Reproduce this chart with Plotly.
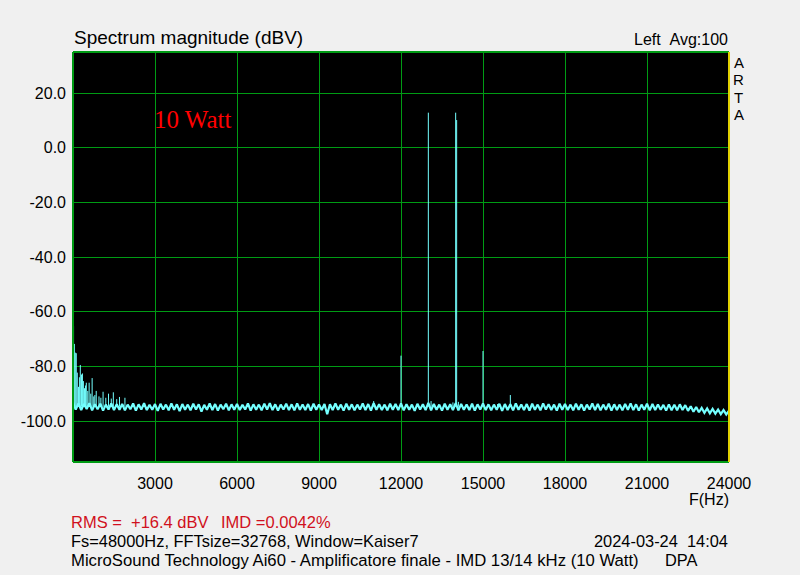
import plotly.graph_objects as go

# ---------------- data ----------------
noise_f0 = 0
noise_step = 100  # Hz between noise-floor samples
noise_db = [
    -93.2, -95.8, -93.6, -96.0, -93.8, -95.6, -93.5, -96.1, -93.9, -95.7, -93.7, -96.2, -94.0, -95.8, -93.6, -96.0, -93.9, -95.9, -93.8, -96.1,
    -94.0, -95.7, -93.6, -96.2, -93.9, -95.8, -93.5, -96.0, -94.1, -95.9, -93.8, -96.3, -93.7, -95.8, -94.0, -96.1, -93.6, -95.9, -93.9, -96.4,
    -93.8, -95.9, -94.0, -96.1, -93.7, -95.8, -93.9, -96.6, -94.1, -95.9, -93.6, -96.0, -93.8, -96.2, -94.0, -95.7, -93.7, -96.1, -93.9, -95.9,
    -93.8, -96.0, -94.1, -95.8, -93.6, -96.2, -93.9, -95.9, -94.0, -96.1, -93.7, -95.8, -93.5, -96.0, -93.9, -96.2, -94.0, -95.8, -93.7, -96.0,
    -93.9, -96.1, -93.6, -95.9, -94.0, -96.0, -93.8, -96.2, -93.7, -95.9, -94.0, -96.0, -93.8, -97.5, -93.9, -96.0, -93.6, -95.9, -94.0, -96.2,
    -93.7, -95.9, -93.9, -96.1, -94.0, -95.8, -93.6, -96.0, -93.8, -96.2, -93.5, -95.9, -93.9, -96.0, -94.0, -96.1, -93.7, -95.9, -93.8, -96.0,
    -93.6, -96.1, -93.9, -95.9, -94.0, -96.3, -93.7, -95.8, -93.9, -96.0, -93.4, -96.1, -93.8, -95.9, -94.0, -96.2, -93.7, -95.9, -93.9, -96.0,
    -93.5, -96.1, -93.8, -95.9, -94.0, -96.0, -93.7, -96.2, -93.9, -95.8, -93.6, -96.0, -93.9, -96.1, -94.0, -95.9, -93.7, -96.3, -93.8, -96.0,
    -93.9, -96.1, -93.6, -95.9, -94.0, -96.0, -93.8, -96.2, -93.7, -95.9, -94.0, -96.1, -93.6, -95.8, -93.9, -96.0, -94.0, -96.2, -93.7, -95.9,
    -93.8, -96.0, -94.0, -96.1, -93.7, -95.9, -93.9, -96.2, -94.0, -95.8, -93.6, -96.0, -93.8, -96.1, -94.0, -95.9, -93.7, -96.2, -93.9, -96.0,
    -94.0, -96.1, -93.8, -95.9, -93.6, -96.0, -93.9, -96.2, -94.0, -95.9, -93.7, -96.1, -93.8, -96.0, -94.0, -95.9, -94.1, -96.2, -93.9, -96.1,
    -94.0, -96.1, -93.9, -96.0, -94.2, -96.3, -94.6, -96.6, -94.9, -96.8, -95.2, -97.0, -95.4, -97.2, -95.6, -97.3, -95.8, -97.5, -96.0, -97.6,
    -96.2,
]
noise_freq = [noise_f0 + i * noise_step for i in range(len(noise_db))]

# discrete spectral lines (Hz, dBV)
spike_freq = [20, 50, 85, 120, 157, 200, 235, 267, 310, 345, 380, 420, 455, 487, 540, 590, 650, 700, 760, 800, 850, 950,
              1020, 1100, 1200, 1300, 1400, 1475, 1600, 1700, 1900,
              11000, 12000, 13000, 13100, 13900, 14000, 14036, 14100, 15000, 15530, 16000]
spike_db = [-65.3, -71.8, -75.0, -75.2, -82.3, -87.5, -84.0, -79.5, -83.0, -82.6, -85.4, -88.0, -87.0, -86.0, -89.0, -86.0, -90.0, -84.3, -91.0, -90.5, -89.0, -91.0,
            -91.5, -89.3, -91.5, -90.0, -91.8, -89.5, -92.0, -91.2, -91.5,
            -92.7, -76.1, 12.8, -92.7, -93.2, 12.8, 10.1, -93.0, -74.4, -93.8, -90.5]
spike_base = -94.8

x_ticks = [3000, 6000, 9000, 12000, 15000, 18000, 21000, 24000]
x_ticktext = ["3000", "6000", "9000", "12000", "15000", "18000", "21000", "24000"]
y_ticks = [-100, -80, -60, -40, -20, 0, 20]
y_ticktext = ["-100.0", "-80.0", "-60.0", "-40.0", "-20.0", "0.0", "20.0"]

# ---------------- figure ----------------
W, H = 800, 575
L, R, T, B = 73, 729, 52, 462
TRACE = "#74ffff"
GRID = "rgb(0,155,20)"
FONT = "Liberation Sans, Arial, sans-serif"

sx, sy = [], []
for f, d in zip(spike_freq, spike_db):
    sx += [f, f, None]
    sy += [spike_base, d, None]

fig = go.Figure()
fig.add_trace(go.Scatter(x=noise_freq, y=noise_db, mode="lines",
                         line=dict(color=TRACE, width=2.2), hoverinfo="skip"))
fig.add_trace(go.Scatter(x=sx, y=sy, mode="lines",
                         line=dict(color=TRACE, width=1), hoverinfo="skip"))


def px(x):
    return (x - L) / (R - L)


def py(y):
    return (B - y) / (B - T)


ann = []


def text(x, y, s, anchor="left", size=16, color="black", family=FONT, **kw):
    # compensate for the annotation's inner padding
    if anchor == "left":
        x -= 3
    elif anchor == "right":
        x += 3
    ann.append(dict(x=px(x), y=py(y), xref="paper", yref="paper", text=s, showarrow=False,
                    xanchor=anchor, yanchor="middle", font=dict(size=size, color=color, family=family), **kw))


text(75, 38, "Spectrum magnitude (dBV)", size=19)
text(727, 40, "Left\u00a0\u00a0Avg:100", anchor="right", size=16)
for i, ch in enumerate("ARTA"):
    text(739, 62 + 17.5 * i, ch, anchor="center", size=15, borderpad=0)
text(155, 119, "10 Watt", size=25, color="#ff0000", family="Liberation Serif, Times New Roman, serif")
text(728, 499, "F(Hz)", anchor="right", size=16)
RED = "#d01020"
text(72, 522, "RMS =", size=16.5, color=RED)
text(132, 522, "+16.4 dBV", size=16.5, color=RED)
text(222, 522, "IMD =0.0042%", size=16.5, color=RED)
text(72, 541, "Fs=48000Hz, FFTsize=32768, Window=Kaiser7", size=16.4)
text(727, 541, "2024-03-24\u00a0\u00a014:04", anchor="right", size=16.4)
text(72, 560, "MicroSound Technology Ai60 - Amplificatore finale - IMD 13/14 kHz (10 Watt)", size=16.7)
text(666, 560, "DPA", size=16.4)

shapes = [
    dict(type="line", xref="paper", yref="paper", x0=0, x1=1, y0=1, y1=1, line=dict(color=GRID, width=2)),
    dict(type="line", xref="paper", yref="paper", x0=0, x1=1, y0=0, y1=0, line=dict(color=GRID, width=2)),
    dict(type="line", xref="paper", yref="paper", x0=0, x1=0, y0=0, y1=1, line=dict(color=GRID, width=2)),
    dict(type="line", xref="paper", yref="paper", x0=1, x1=1, y0=0, y1=1, line=dict(color="#e0d000", width=2)),
]

fig.update_layout(
    width=W, height=H,
    margin=dict(l=L, r=W - R, t=T, b=H - B, pad=0),
    paper_bgcolor="#f0f0f0", plot_bgcolor="black",
    showlegend=False, hovermode=False,
    annotations=ann, shapes=shapes,
    font=dict(family=FONT, size=16, color="black"),
)
fig.update_xaxes(range=[0, 24000], tickvals=x_ticks, ticktext=x_ticktext, showgrid=True,
                 gridcolor=GRID, gridwidth=1.2, zeroline=False, showline=False,
                 ticks="", ticklabelstandoff=10, tickfont=dict(size=16, family=FONT))
fig.update_yaxes(range=[-115, 35], tickvals=y_ticks, ticktext=y_ticktext, showgrid=True,
                 gridcolor=GRID, gridwidth=1.2, zeroline=False, showline=False,
                 ticks="", ticklabelstandoff=6, tickfont=dict(size=16, family=FONT))

fig.write_html("out.html", config={"displayModeBar": False},
               post_script="document.body.style.margin='0';")
